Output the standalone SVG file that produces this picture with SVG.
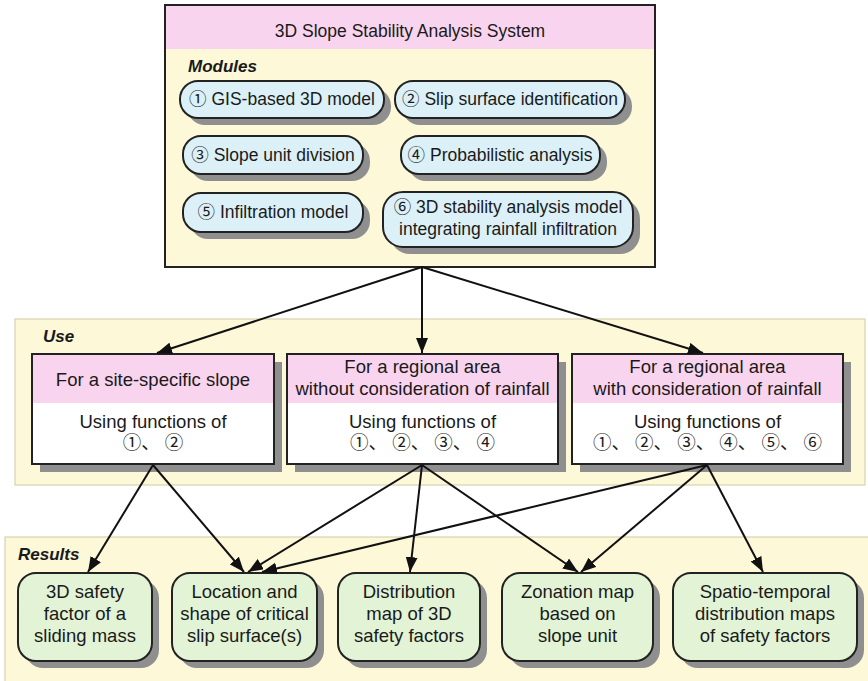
<svg xmlns="http://www.w3.org/2000/svg" width="868" height="681" viewBox="0 0 868 681">
<defs>
<style>
text{font-family:"Liberation Sans","Noto Sans CJK SC",sans-serif;fill:#1a1a1a}
.t{font-size:17.5px;text-anchor:middle}
.b{font-size:18.5px;text-anchor:middle}
.h{font-size:17.5px;text-anchor:middle}
.lab{font-size:17px;font-weight:bold;font-style:italic}
.panel{fill:#fdf8d8;stroke:#d8d2b0;stroke-width:1.2}
.pink{fill:#f9d4ef}
.box{fill:none;stroke:#222;stroke-width:2}
.wbox{fill:#fff;stroke:#222;stroke-width:2}
.pill{fill:#dcf0f8;stroke:#222;stroke-width:2}
.res{fill:#e2f3d6;stroke:#222;stroke-width:2}
.sh{fill:#8f8f8f}
.ar{fill:none;stroke:#111;stroke-width:2;marker-end:url(#ah)}
</style>
<marker id="ah" markerUnits="userSpaceOnUse" markerWidth="16" markerHeight="12" refX="15" refY="6" orient="auto">
<path d="M0,0 L15,6 L0,12 Z" fill="#111"/>
</marker>
</defs>
<rect width="868" height="681" fill="#fff"/>

<g id="panel-use">
<rect class="panel" x="15" y="319" width="850" height="166"/>
<text class="lab" x="43" y="342">Use</text>
</g>
<g id="panel-results">
<rect class="panel" x="5" y="537" width="870" height="150"/>
<text class="lab" x="18" y="560">Results</text>
</g>

<g id="system">
<rect x="165" y="5" width="490" height="262" fill="#fdf8d8"/>
<rect class="pink" x="165" y="5" width="490" height="44"/>
<rect class="box" x="165" y="5" width="490" height="262"/>
<text class="h" x="410" y="37">3D Slope Stability Analysis System</text>
<text class="lab" x="188" y="72">Modules</text>
</g>

<g id="m1">
<rect class="sh" x="187" y="88" width="204" height="37" rx="18"/>
<rect class="pill" x="180" y="81" width="204" height="37" rx="18"/>
<text class="t" x="282" y="105">① GIS-based 3D model</text>
</g>
<g id="m2">
<rect class="sh" x="402" y="88" width="230" height="37" rx="18"/>
<rect class="pill" x="395" y="81" width="230" height="37" rx="18"/>
<text class="t" x="510" y="105">② Slip surface identification</text>
</g>
<g id="m3">
<rect class="sh" x="190" y="143" width="180" height="38" rx="18"/>
<rect class="pill" x="183" y="136" width="180" height="38" rx="18"/>
<text class="t" x="273" y="161">③ Slope unit division</text>
</g>
<g id="m4">
<rect class="sh" x="408" y="143" width="199" height="38" rx="18"/>
<rect class="pill" x="401" y="136" width="199" height="38" rx="18"/>
<text class="t" x="500" y="161">④ Probabilistic analysis</text>
</g>
<g id="m5">
<rect class="sh" x="190" y="200" width="180" height="39" rx="18"/>
<rect class="pill" x="183" y="193" width="180" height="39" rx="18"/>
<text class="t" x="273" y="218">⑤ Infiltration model</text>
</g>
<g id="m6">
<rect class="sh" x="390" y="199" width="250" height="55" rx="20"/>
<rect class="pill" x="383" y="192" width="250" height="55" rx="20"/>
<text class="t" x="508" y="213">⑥ 3D stability analysis model</text>
<text class="t" x="508" y="235">integrating rainfall infiltration</text>
</g>

<g id="u1">
<rect class="sh" x="40" y="362" width="242" height="110"/>
<rect class="wbox" x="32" y="354" width="242" height="110"/>
<rect class="pink" x="33" y="355" width="240" height="48"/>
<rect class="box" x="32" y="354" width="242" height="110"/>
<text class="b" x="153" y="386">For a site-specific slope</text>
<text class="b" x="153" y="428">Using functions of</text>
<text class="b" x="153" y="449">①、 ②</text>
</g>
<g id="u2">
<rect class="sh" x="295" y="362" width="271" height="110"/>
<rect class="wbox" x="287" y="354" width="271" height="110"/>
<rect class="pink" x="288" y="355" width="269" height="48"/>
<rect class="box" x="287" y="354" width="271" height="110"/>
<text class="b" x="422.5" y="373">For a regional area</text>
<text class="b" x="422.5" y="395">without consideration of rainfall</text>
<text class="b" x="422.5" y="428">Using functions of</text>
<text class="b" x="422.5" y="449">①、 ②、 ③、 ④</text>
</g>
<g id="u3">
<rect class="sh" x="580" y="362" width="271" height="110"/>
<rect class="wbox" x="572" y="354" width="271" height="110"/>
<rect class="pink" x="573" y="355" width="269" height="48"/>
<rect class="box" x="572" y="354" width="271" height="110"/>
<text class="b" x="707.5" y="373">For a regional area</text>
<text class="b" x="707.5" y="395">with consideration of rainfall</text>
<text class="b" x="707.5" y="428">Using functions of</text>
<text class="b" x="707.5" y="449">①、 ②、 ③、 ④、 ⑤、 ⑥</text>
</g>

<g id="r1">
<rect class="sh" x="25" y="580" width="134" height="88" rx="18"/>
<rect class="res" x="18" y="573" width="134" height="88" rx="18"/>
<text class="b" x="85" y="598">3D safety</text>
<text class="b" x="85" y="620">factor of a</text>
<text class="b" x="85" y="642">sliding mass</text>
</g>
<g id="r2">
<rect class="sh" x="179" y="580" width="145" height="88" rx="18"/>
<rect class="res" x="172" y="573" width="145" height="88" rx="18"/>
<text class="b" x="244.5" y="598">Location and</text>
<text class="b" x="244.5" y="620">shape of critical</text>
<text class="b" x="244.5" y="642">slip surface(s)</text>
</g>
<g id="r3">
<rect class="sh" x="345" y="580" width="142" height="88" rx="18"/>
<rect class="res" x="338" y="573" width="142" height="88" rx="18"/>
<text class="b" x="409" y="598">Distribution</text>
<text class="b" x="409" y="620">map of 3D</text>
<text class="b" x="409" y="642">safety factors</text>
</g>
<g id="r4">
<rect class="sh" x="509" y="580" width="151" height="88" rx="18"/>
<rect class="res" x="502" y="573" width="151" height="88" rx="18"/>
<text class="b" x="577.5" y="598">Zonation map</text>
<text class="b" x="577.5" y="620">based on</text>
<text class="b" x="577.5" y="642">slope unit</text>
</g>
<g id="r5">
<rect class="sh" x="680" y="580" width="184" height="88" rx="18"/>
<rect class="res" x="673" y="573" width="184" height="88" rx="18"/>
<text class="b" x="765" y="598">Spatio-temporal</text>
<text class="b" x="765" y="620">distribution maps</text>
<text class="b" x="765" y="642">of safety factors</text>
</g>

<g id="connectors">
<line class="ar" x1="422" y1="267" x2="157" y2="353"/>
<line class="ar" x1="422" y1="267" x2="422" y2="353"/>
<line class="ar" x1="422" y1="267" x2="703" y2="353"/>
<line class="ar" x1="153" y1="465" x2="88" y2="572"/>
<line class="ar" x1="153" y1="465" x2="244" y2="572"/>
<line class="ar" x1="422" y1="465" x2="248" y2="572"/>
<line class="ar" x1="422" y1="465" x2="410" y2="572"/>
<line class="ar" x1="422" y1="465" x2="578" y2="572"/>
<line class="ar" x1="707" y1="465" x2="262" y2="572"/>
<line class="ar" x1="707" y1="465" x2="581" y2="572"/>
<line class="ar" x1="707" y1="465" x2="763" y2="572"/>
</g>
</svg>
